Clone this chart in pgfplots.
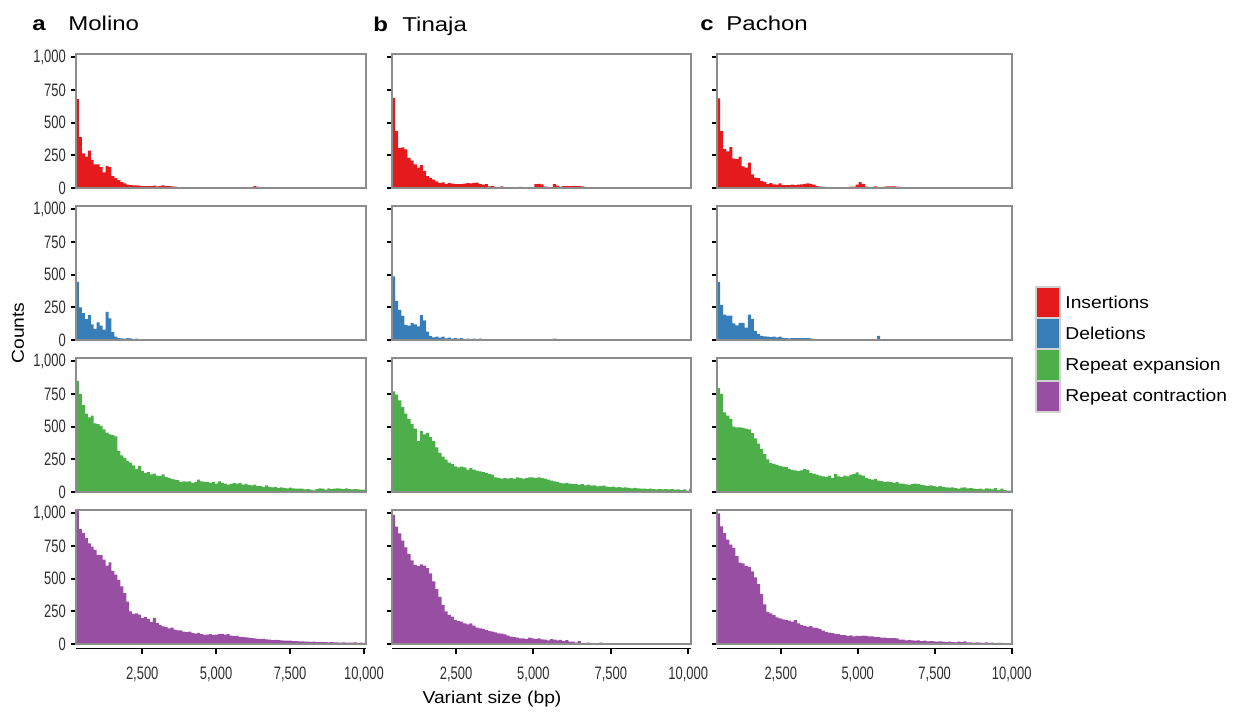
\documentclass[border=0pt]{standalone}
\usepackage{pgfplots}
\pgfplotsset{compat=1.18}
\usepackage{pgfplotstable}
\usepackage{fontspec}
\setmainfont{Liberation Sans}
\newfontfamily\tfnarrow[FakeStretch=0.72]{Liberation Sans}
\newfontfamily\titlefont[FakeStretch=1.2]{Liberation Sans}
\newfontfamily\labfont[FakeStretch=1.12]{Liberation Sans}
\definecolor{cIns}{HTML}{E41A1C}
\definecolor{cDel}{HTML}{377EB8}
\definecolor{cExp}{HTML}{4DAF4A}
\definecolor{cCon}{HTML}{984EA3}
\definecolor{border}{HTML}{8C8C8C}

% ---- column a: Molino (bins of 100 bp from 260) ----
\pgfplotstableread[row sep=\\]{y\\680\\390\\265\\240\\285\\215\\180\\180\\160\\120\\170\\160\\90\\75\\60\\45\\35\\25\\22\\20\\20\\18\\15\\15\\15\\15\\18\\12\\15\\20\\15\\15\\12\\10\\5\\0\\5\\3\\5\\0\\0\\3\\0\\0\\0\\0\\5\\5\\0\\0\\0\\0\\5\\0\\5\\0\\5\\0\\0\\0\\15\\8\\0\\}\aI
\pgfplotstableread[row sep=\\]{y\\445\\250\\205\\160\\190\\120\\85\\135\\110\\80\\215\\165\\60\\25\\15\\12\\10\\15\\12\\5\\10\\5\\3\\0\\5\\0\\0\\5\\0\\5\\0\\0\\0\\0\\0\\0\\0\\0\\0\\0\\0\\0\\0\\0\\0\\0\\0\\0\\5\\0\\0\\0\\0\\5\\0\\}\aD
\pgfplotstableread[row sep=\\]{y\\850\\750\\665\\600\\570\\585\\525\\520\\505\\480\\455\\440\\435\\425\\315\\280\\262\\236\\224\\203\\177\\198\\160\\147\\152\\134\\141\\126\\121\\134\\116\\108\\100\\95\\90\\75\\82\\80\\82\\70\\75\\95\\82\\77\\75\\70\\75\\65\\82\\70\\65\\57\\62\\70\\65\\70\\57\\62\\55\\50\\57\\45\\45\\40\\50\\40\\36\\38\\30\\35\\30\\28\\33\\28\\26\\25\\25\\20\\22\\18\\12\\23\\28\\25\\18\\28\\22\\25\\28\\25\\23\\28\\22\\20\\22\\20\\18\\18\\18\\}\aE
\pgfplotstableread[row sep=\\]{y\\1020\\880\\850\\810\\770\\745\\720\\680\\680\\645\\600\\625\\560\\530\\490\\440\\390\\325\\250\\230\\235\\225\\200\\205\\190\\170\\200\\160\\145\\135\\130\\120\\125\\110\\105\\105\\95\\90\\95\\85\\80\\85\\75\\70\\72\\75\\70\\72\\75\\78\\72\\75\\65\\60\\62\\55\\52\\50\\48\\45\\44\\40\\38\\40\\35\\33\\30\\32\\30\\28\\26\\25\\26\\22\\23\\20\\21\\18\\19\\16\\18\\15\\17\\14\\15\\13\\14\\12\\13\\11\\12\\10\\11\\10\\12\\9\\10\\9\\9\\}\aC
% ---- column b: Tinaja (bins of 100 bp from 430) ----
\pgfplotstableread[row sep=\\]{y\\690\\435\\305\\310\\295\\230\\210\\180\\155\\175\\130\\90\\78\\65\\50\\38\\43\\30\\38\\33\\30\\30\\30\\33\\38\\35\\40\\42\\30\\25\\30\\12\\15\\0\\0\\12\\0\\0\\0\\0\\0\\8\\0\\0\\0\\0\\30\\32\\28\\10\\0\\0\\30\\18\\5\\15\\15\\15\\15\\15\\15\\12\\0\\}\bI
\pgfplotstableread[row sep=\\]{y\\487\\300\\230\\185\\115\\110\\130\\120\\105\\190\\150\\65\\30\\20\\25\\18\\25\\12\\18\\10\\15\\10\\14\\5\\10\\5\\10\\5\\10\\0\\5\\0\\0\\0\\0\\0\\0\\0\\0\\0\\0\\0\\0\\0\\0\\0\\0\\0\\0\\0\\0\\0\\10\\5\\0\\}\bD
\pgfplotstableread[row sep=\\]{y\\770\\745\\700\\650\\600\\560\\520\\485\\390\\465\\440\\452\\420\\390\\342\\300\\270\\247\\225\\214\\196\\189\\194\\189\\171\\184\\171\\163\\158\\153\\145\\138\\133\\112\\107\\102\\107\\102\\107\\102\\112\\107\\102\\107\\112\\112\\107\\112\\107\\102\\94\\87\\82\\77\\69\\66\\69\\64\\61\\61\\56\\61\\51\\56\\48\\51\\43\\46\\48\\41\\38\\41\\36\\38\\33\\36\\31\\28\\31\\28\\26\\26\\23\\26\\23\\20\\23\\20\\23\\20\\23\\18\\20\\15\\20\\10\\25\\25\\}\bE
\pgfplotstableread[row sep=\\]{y\\987\\898\\847\\790\\740\\690\\640\\605\\595\\610\\600\\580\\540\\480\\420\\360\\300\\250\\222\\209\\184\\176\\171\\158\\151\\158\\140\\125\\120\\115\\107\\99\\94\\89\\82\\79\\74\\64\\56\\53\\48\\43\\43\\38\\48\\43\\38\\43\\36\\33\\28\\38\\33\\28\\31\\23\\30\\18\\18\\10\\23\\5\\0\\10\\0\\5\\0\\10\\0\\0\\}\bC
% ---- column c: Pachon (bins of 100 bp from 430) ----
\pgfplotstableread[row sep=\\]{y\\686\\435\\300\\280\\315\\225\\220\\240\\165\\155\\195\\105\\80\\75\\55\\45\\30\\38\\28\\25\\35\\22\\22\\22\\25\\22\\25\\28\\32\\35\\32\\25\\15\\10\\8\\5\\5\\0\\5\\5\\0\\5\\5\\10\\10\\25\\45\\30\\10\\0\\5\\12\\0\\0\\10\\12\\12\\12\\10\\8\\0\\}\cI
\pgfplotstableread[row sep=\\]{y\\444\\269\\195\\187\\187\\127\\112\\132\\132\\95\\195\\162\\70\\45\\32\\27\\25\\22\\25\\20\\25\\17\\15\\12\\15\\15\\15\\15\\15\\15\\12\\0\\0\\0\\0\\0\\0\\0\\0\\0\\0\\0\\0\\0\\0\\0\\0\\0\\0\\0\\0\\0\\32\\0\\}\cD
\pgfplotstableread[row sep=\\]{y\\795\\750\\610\\585\\560\\500\\495\\495\\490\\485\\480\\450\\410\\370\\330\\290\\250\\220\\215\\205\\200\\195\\190\\175\\170\\165\\160\\165\\175\\170\\145\\140\\133\\125\\120\\115\\125\\108\\138\\120\\115\\125\\120\\133\\138\\150\\133\\125\\108\\100\\95\\100\\88\\83\\75\\80\\75\\70\\75\\65\\65\\58\\55\\60\\65\\60\\55\\50\\45\\50\\45\\40\\45\\38\\35\\33\\35\\30\\25\\33\\35\\28\\30\\25\\23\\25\\20\\28\\25\\20\\30\\15\\25\\15\\10\\10\\10\\}\cE
\pgfplotstableread[row sep=\\]{y\\1000\\900\\849\\799\\761\\736\\673\\623\\616\\598\\590\\555\\510\\460\\384\\304\\246\\234\\221\\204\\196\\188\\183\\178\\171\\183\\158\\146\\138\\133\\136\\126\\121\\113\\103\\93\\88\\83\\78\\76\\68\\68\\63\\66\\58\\62\\60\\65\\62\\58\\58\\53\\53\\48\\48\\45\\45\\45\\43\\33\\33\\28\\30\\28\\25\\28\\23\\25\\20\\23\\20\\18\\20\\18\\15\\18\\15\\13\\18\\15\\20\\13\\13\\8\\13\\10\\8\\13\\8\\10\\5\\8\\8\\3\\5\\0\\0\\}\cC

\newcommand{\hist}[3]{\addplot[fill=#1, draw=none, const plot mark left] table[x expr={\coordindex*100+#2}, y=y]{#3} \closedcycle;}
\newcommand{\xline}{\draw[black, line width=0.9pt] ([yshift=-2.2pt]rel axis cs:0,0) -- ([yshift=-2.2pt]rel axis cs:1,0);}

\pgfplotsset{
  panel/.style={
    scale only axis, height=67pt, ymin=0, ymax=1025,
    axis on top, clip mode=individual,
    axis line style={draw=border, line width=0.7pt},
    tick pos=left, tick align=outside, major tick length=2.6pt,
    tick style={black, line width=1pt},
    ytick={0,250,500,750,1000}, xtick=\empty,
    scaled ticks=false,
    tick label style={font=\tfnarrow\fontsize{9}{10}\selectfont, text=black!82},
    y tick label style={xshift=1pt},
    /pgf/number format/1000 sep={,},
    /pgf/number format/assume math mode=true,
  },
  nolab/.style={yticklabels={}},
  bottomrow/.style={
    xtick={2500,5000,7500,10000},
    x tick style={yshift=-2.2pt},
    x tick label style={yshift=-5.5pt},
  },
}

\begin{document}
\begin{tikzpicture}
\useasboundingbox (0,0) rectangle (616.5pt,-357pt);

% ===== column a =====
\begin{axis}[panel, at={(38pt,-27pt)}, anchor=north west, width=145pt, xmin=260, xmax=10070]
\hist{cIns}{260}{\aI}
\end{axis}
\begin{axis}[panel, at={(38pt,-103pt)}, anchor=north west, width=145pt, xmin=260, xmax=10070]
\hist{cDel}{260}{\aD}
\end{axis}
\begin{axis}[panel, at={(38pt,-179pt)}, anchor=north west, width=145pt, xmin=260, xmax=10070]
\hist{cExp}{260}{\aE}
\end{axis}
\begin{axis}[panel, bottomrow, at={(38pt,-255pt)}, anchor=north west, width=145pt, xmin=260, xmax=10070]
\hist{cCon}{260}{\aC}
\xline
\end{axis}

% ===== column b =====
\begin{axis}[panel, nolab, at={(196pt,-27pt)}, anchor=north west, width=149.5pt, xmin=430, xmax=10090]
\hist{cIns}{430}{\bI}
\end{axis}
\begin{axis}[panel, nolab, at={(196pt,-103pt)}, anchor=north west, width=149.5pt, xmin=430, xmax=10090]
\hist{cDel}{430}{\bD}
\end{axis}
\begin{axis}[panel, nolab, at={(196pt,-179pt)}, anchor=north west, width=149.5pt, xmin=430, xmax=10090]
\hist{cExp}{430}{\bE}
\end{axis}
\begin{axis}[panel, nolab, bottomrow, at={(196pt,-255pt)}, anchor=north west, width=149.5pt, xmin=430, xmax=10090]
\hist{cCon}{430}{\bC}
\xline
\end{axis}

% ===== column c =====
\begin{axis}[panel, nolab, at={(358.5pt,-27pt)}, anchor=north west, width=147.5pt, xmin=430, xmax=10010]
\hist{cIns}{430}{\cI}
\end{axis}
\begin{axis}[panel, nolab, at={(358.5pt,-103pt)}, anchor=north west, width=147.5pt, xmin=430, xmax=10010]
\hist{cDel}{430}{\cD}
\end{axis}
\begin{axis}[panel, nolab, at={(358.5pt,-179pt)}, anchor=north west, width=147.5pt, xmin=430, xmax=10010]
\hist{cExp}{430}{\cE}
\end{axis}
\begin{axis}[panel, nolab, bottomrow, at={(358.5pt,-255pt)}, anchor=north west, width=147.5pt, xmin=430, xmax=10010]
\hist{cCon}{430}{\cC}
\xline
\end{axis}

% ===== titles =====
\node[anchor=base west, inner sep=0] at (16pt,-15pt) {\titlefont\fontsize{10}{12}\selectfont\bfseries a};
\node[anchor=base west, inner sep=0] at (34pt,-15pt) {\titlefont\fontsize{10}{12}\selectfont Molino};
\node[anchor=base west, inner sep=0] at (186.5pt,-15.5pt) {\titlefont\fontsize{10}{12}\selectfont\bfseries b};
\node[anchor=base west, inner sep=0] at (201pt,-15.5pt) {\titlefont\fontsize{10}{12}\selectfont Tinaja};
\node[anchor=base west, inner sep=0] at (350pt,-15pt) {\titlefont\fontsize{10}{12}\selectfont\bfseries c};
\node[anchor=base west, inner sep=0] at (363pt,-15pt) {\titlefont\fontsize{10}{12}\selectfont Pachon};

% ===== axis labels =====
\node[rotate=90, inner sep=0] at (9pt,-166.5pt) {\labfont\fontsize{8.6}{10}\selectfont Counts};
\node[inner sep=0] at (246pt,-349.5pt) {\labfont\fontsize{8.6}{10}\selectfont Variant size (bp)};

% ===== legend =====
\fill[cIns] (518pt,-143.5pt) rectangle (530pt,-159pt);
\fill[cDel] (518pt,-159pt) rectangle (530pt,-174.5pt);
\fill[cExp] (518pt,-174.5pt) rectangle (530pt,-190.5pt);
\fill[cCon] (518pt,-190.5pt) rectangle (530pt,-206pt);
\draw[black!18, line width=0.7pt] (518pt,-143.5pt) rectangle (530pt,-159pt);
\draw[black!18, line width=0.7pt] (518pt,-159pt) rectangle (530pt,-174.5pt);
\draw[black!18, line width=0.7pt] (518pt,-174.5pt) rectangle (530pt,-190.5pt);
\draw[black!18, line width=0.7pt] (518pt,-190.5pt) rectangle (530pt,-206pt);
\node[anchor=west, inner sep=0] at (532.5pt,-151pt) {\labfont\fontsize{8.6}{10}\selectfont Insertions};
\node[anchor=west, inner sep=0] at (532.5pt,-166.5pt) {\labfont\fontsize{8.6}{10}\selectfont Deletions};
\node[anchor=west, inner sep=0] at (532.5pt,-183pt) {\labfont\fontsize{8.6}{10}\selectfont Repeat expansion};
\node[anchor=west, inner sep=0] at (532.5pt,-198.5pt) {\labfont\fontsize{8.6}{10}\selectfont Repeat contraction};
\end{tikzpicture}
\end{document}
